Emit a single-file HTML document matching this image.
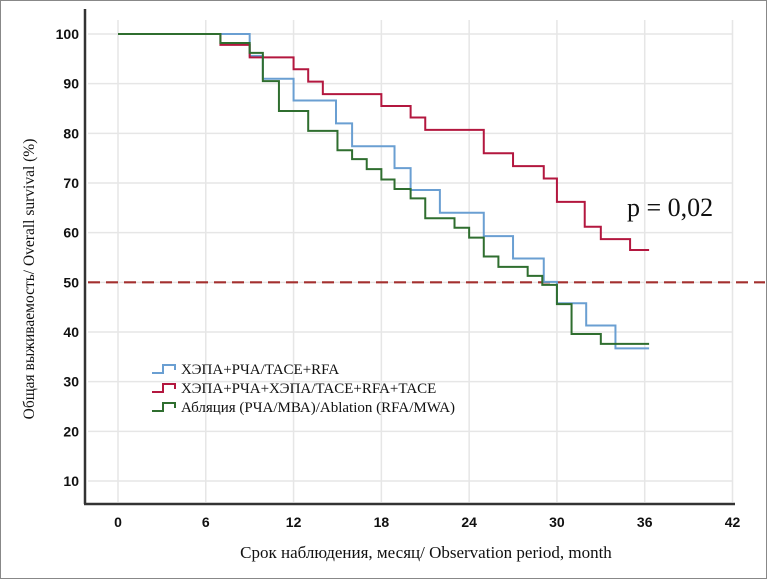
<!DOCTYPE html>
<html><head><meta charset="utf-8"><style>
html,body{margin:0;padding:0;background:#fff}
svg{display:block}
.tick{font-family:"Liberation Sans",sans-serif;font-weight:bold;font-size:14px;fill:#111}
.ser{font-family:"Liberation Serif","Noto Serif CJK SC",serif;fill:#111}
</style></head><body>
<svg id="chart" width="768" height="580" viewBox="0 0 768 580">
<rect x="0.5" y="0.5" width="766" height="578" fill="#fff" stroke="#888"/>
<g id="grid"></g>
<g id="ticks"></g>
<line x1="85" y1="9" x2="85" y2="504" stroke="#333" stroke-width="2.5"/>
<line x1="84" y1="504" x2="735" y2="504" stroke="#333" stroke-width="2.5"/>
<g id="series"></g>
<text class="ser" x="627" y="216" font-size="26">p = 0,02</text>
<text class="ser" x="426" y="558" font-size="17" text-anchor="middle">Срок наблюдения, месяц/ Observation period, month</text>
<text class="ser" transform="translate(34,279) rotate(-90)" font-size="15.5" text-anchor="middle">Общая выживаемость/ Overall survival (%)</text>
<g id="legend"></g>
</svg>
<script>
const xTicks=[0,6,12,18,24,30,36,42];
const yTicks=[10,20,30,40,50,60,70,80,90,100];
const seriesNames=["ХЭПА+РЧА/TACE+RFA","ХЭПА+РЧА+ХЭПА/TACE+RFA+TACE","Абляция (РЧА/МВА)/Ablation  (RFA/MWA)"];
const seriesColors=["#6a9fd2","#b3173f","#2f6e2f"];
const blueTimes=[0,9,9.9,12,14.9,16,18.9,20,22,25,27,29.1,30,32,34,36.3];
const blueVals=[100,95.6,91,86.6,82,77.4,73,68.6,64,59.3,54.8,50.1,45.8,41.3,36.7,36.7];
const redTimes=[0,7,9,12,13,14,18,20,21,25,27,29.1,30,31.9,33,35,36.3];
const redVals=[100,97.8,95.3,92.9,90.4,87.9,85.5,83.2,80.7,76,73.4,70.9,66.2,61.2,58.7,56.5,56.5];
const greenTimes=[0,7,9,9.9,11,13,15,16,17,18,18.9,20,21,23,24,25,26,28,29,30,31,33,36.3];
const greenVals=[100,98.2,96.2,90.5,84.5,80.5,76.6,74.8,72.8,70.7,68.8,66.9,62.9,61,59,55.2,53.1,51.3,49.5,45.6,39.6,37.6,37.6];
const refLine=50;
const NS="http://www.w3.org/2000/svg";
const sx=m=>118+m*(732.5-118)/42;
const sy=v=>481-(v-10)*(481-34)/90;
function mk(tag,attrs,parent){const e=document.createElementNS(NS,tag);for(const k in attrs)e.setAttribute(k,attrs[k]);parent.appendChild(e);return e;}
const grid=document.getElementById('grid'),ticks=document.getElementById('ticks'),series=document.getElementById('series'),legend=document.getElementById('legend');
xTicks.forEach(t=>{
 const l=mk('line',{x1:sx(t),x2:sx(t),y1:20,y2:502,stroke:'#e6e6e6','stroke-width':1.5},grid);
 
 
 const tx=mk('text',{x:sx(t),y:527,'text-anchor':'middle',class:'tick'},ticks);tx.textContent=t;
 
 
});
yTicks.forEach(t=>{
 const l=mk('line',{x1:88,x2:733,y1:sy(t),y2:sy(t),stroke:'#e6e6e6','stroke-width':1.5},grid);
 
 
 const tx=mk('text',{x:79,y:sy(t)+5,'text-anchor':'end',class:'tick'},ticks);tx.textContent=t;
 
 
});
const ref=mk('line',{x1:88,x2:765,y1:sy(refLine),y2:sy(refLine),stroke:'#a3302f','stroke-width':2.2,'stroke-dasharray':'12,6'},series);


function stepPath(ts,vs){let d='M'+sx(ts[0])+','+sy(vs[0]);for(let i=1;i<ts.length;i++){d+=' H'+sx(ts[i])+' V'+sy(vs[i]);}return d;}
const all=[[blueTimes,blueVals],[redTimes,redVals],[greenTimes,greenVals]];
const snames=['blue-survival-curve','red-survival-curve','green-survival-curve'];
all.forEach((s,i)=>{
 const p=mk('path',{d:stepPath(s[0],s[1]),fill:'none',stroke:seriesColors[i],'stroke-width':2},series);
 
 
});
seriesNames.forEach((n,i)=>{
 const y=369+i*19;
 const ic=mk('path',{d:`M152,${y+4} H163 V${y-4} H175 V${y+1}`,fill:'none',stroke:seriesColors[i],'stroke-width':2},legend);
 
 
 const t=mk('text',{x:181,y:y+5,class:'ser','font-size':15},legend);t.textContent=n;
 
 
});
</script>
</body></html>
